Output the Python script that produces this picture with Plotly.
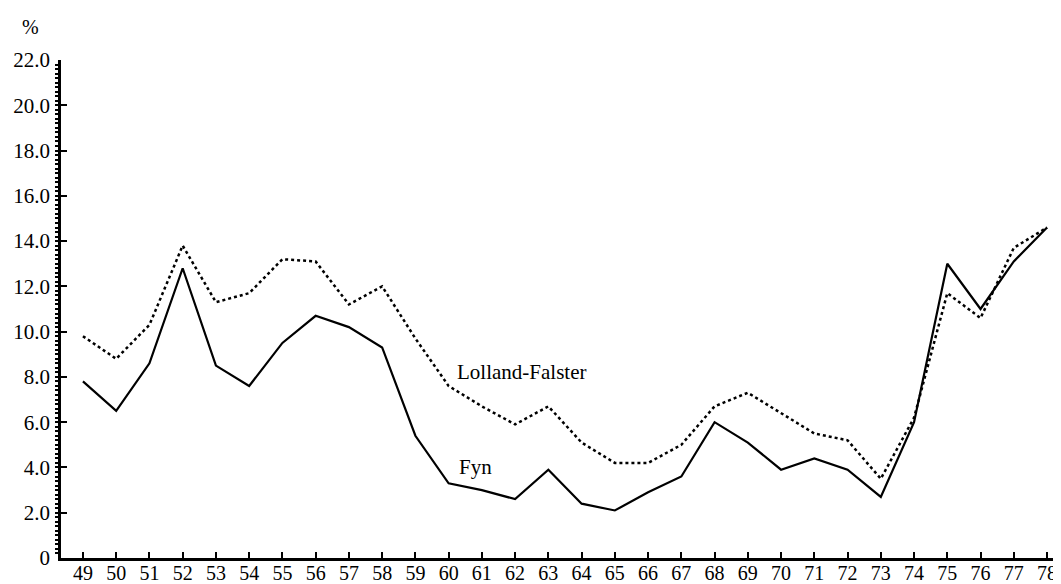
import plotly.graph_objects as go

years = list(range(49, 79))
year_labels = [str(y) for y in years]

fyn = [7.8, 6.5, 8.6, 12.8, 8.5, 7.6, 9.5, 10.7, 10.2, 9.3,
       5.4, 3.3, 3.0, 2.6, 3.9, 2.4, 2.1, 2.9, 3.6, 6.0,
       5.1, 3.9, 4.4, 3.9, 2.7, 6.0, 13.0, 11.0, 13.1, 14.6]

lolland_falster = [9.8, 8.8, 10.3, 13.8, 11.3, 11.7, 13.2, 13.1, 11.2, 12.0,
                   9.7, 7.6, 6.7, 5.9, 6.7, 5.1, 4.2, 4.2, 5.0, 6.7,
                   7.3, 6.4, 5.5, 5.2, 3.5, 6.2, 11.7, 10.6, 13.7, 14.6]

y_tickvals = [0, 2, 4, 6, 8, 10, 12, 14, 16, 18, 20, 22]
y_ticktext = ["0", "2.0", "4.0", "6.0", "8.0", "10.0", "12.0", "14.0", "16.0", "18.0", "20.0", "22.0"]

FONT = "Liberation Serif"

fig = go.Figure()
fig.add_trace(go.Scatter(x=years, y=lolland_falster, mode="lines", name="Lolland-Falster",
                         line=dict(color="black", width=2.5, dash="dot"), showlegend=False))
fig.add_trace(go.Scatter(x=years, y=fyn, mode="lines", name="Fyn",
                         line=dict(color="black", width=2.2), showlegend=False))

fig.add_annotation(x=62.2, y=8.2, text="Lolland-Falster", showarrow=False,
                   font=dict(family=FONT, size=21, color="black"))
fig.add_annotation(x=60.8, y=4.0, text="Fyn", showarrow=False,
                   font=dict(family=FONT, size=21, color="black"))
fig.add_annotation(xref="paper", yref="paper", x=-0.031, y=1.066, xanchor="center", yanchor="middle",
                   text="%", showarrow=False,
                   font=dict(family=FONT, size=20, color="black"))

# page body has an 8px default margin, so the figure is 8px smaller than the window
fig.update_layout(
    width=1053, height=576, autosize=False,
    margin=dict(l=53, r=3, t=52, b=26),
    plot_bgcolor="white", paper_bgcolor="white",
    font=dict(family=FONT, size=21, color="black"),
    xaxis=dict(range=[48.34, 78.33], tickvals=years, ticktext=year_labels, automargin=False,
               showgrid=False, zeroline=False, showline=True, linecolor="black", linewidth=2.5,
               ticks="inside", ticklen=6, tickwidth=2, tickcolor="black",
               ticklabelstandoff=-5,
               tickfont=dict(family=FONT, size=20)),
    yaxis=dict(range=[0, 22], tickvals=y_tickvals, ticktext=y_ticktext, automargin=False,
               showgrid=False, zeroline=False, showline=True, linecolor="black", linewidth=2.5,
               ticks="inside", ticklen=6, tickwidth=2, tickcolor="black",
               ticklabelstandoff=4,
               tickfont=dict(family=FONT, size=21),
               minor=dict(dtick=0.2, ticks="outside", ticklen=3, tickwidth=1.5, tickcolor="black", showgrid=False)),
)

fig.write_html("out.html")
